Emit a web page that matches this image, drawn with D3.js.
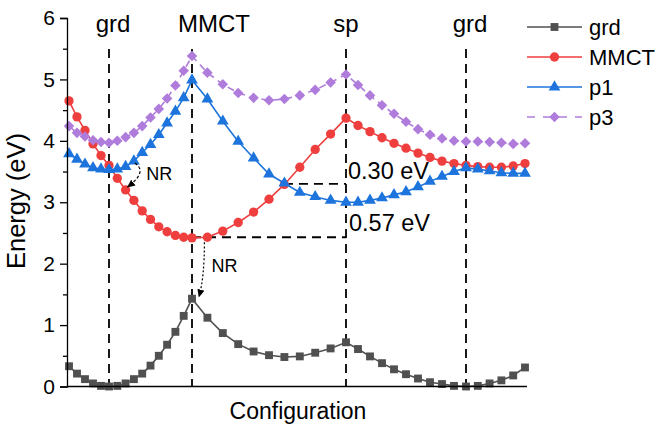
<!DOCTYPE html>
<meta charset="utf-8">
<style>
    body {
        margin: 0;
        background: #fff;
    }
    text {
        font-family: Arial, "Liberation Sans", sans-serif;
        fill: #000;
    }
</style>

<body>
    <script src="https://cdn.jsdelivr.net/npm/d3@7"></script>
    <script>
        // configuration steps along the path grd -> MMCT -> sp -> grd
        var steps = d3.range(41);

        var grd = [0.33, 0.21, 0.12, 0.05, 0.01, 0.00, 0.01, 0.05, 0.12, 0.21,
            0.34, 0.50, 0.68, 0.89, 1.15, 1.43, 1.12, 0.87, 0.69, 0.57,
            0.51, 0.48, 0.49, 0.55, 0.62, 0.72, 0.61, 0.49, 0.38, 0.28,
            0.20, 0.13, 0.07, 0.04, 0.01, 0.00, 0.01, 0.05, 0.10, 0.18, 0.31];

        var mmct = [4.65, 4.39, 4.17, 3.95, 3.76, 3.60, 3.39, 3.20, 3.03, 2.86,
            2.72, 2.60, 2.52, 2.46, 2.43, 2.42, 2.43, 2.53, 2.67, 2.84,
            3.05, 3.29, 3.57, 3.86, 4.11, 4.37, 4.25, 4.15, 4.05, 3.96,
            3.88, 3.80, 3.73, 3.67, 3.63, 3.60, 3.58, 3.57, 3.57, 3.59, 3.63];

        var p1 = [3.79, 3.70, 3.62, 3.56, 3.54, 3.53, 3.54, 3.58, 3.67, 3.81,
            3.94, 4.10, 4.29, 4.48, 4.70, 4.99, 4.68, 4.32, 3.99, 3.72,
            3.46, 3.31, 3.16, 3.09, 3.03, 3.00, 3.00, 3.03, 3.07, 3.12,
            3.17, 3.25, 3.34, 3.42, 3.50, 3.56, 3.54, 3.51, 3.48, 3.47, 3.47];

        var p3 = [4.24, 4.13, 4.07, 4.01, 3.98, 3.97, 4.00, 4.06, 4.13, 4.24,
            4.38, 4.52, 4.69, 4.90, 5.14, 5.38, 5.11, 4.92, 4.78, 4.70,
            4.66, 4.68, 4.74, 4.83, 4.95, 5.08, 4.91, 4.74, 4.58, 4.44,
            4.31, 4.19, 4.10, 4.04, 4.00, 3.99, 3.99, 3.98, 3.97, 3.95, 3.96];

        var yTicks = [0, 1, 2, 3, 4, 5, 6];
        var yMinor = [0.5, 1.5, 2.5, 3.5, 4.5, 5.5];

        // labelled geometries (step index)
        var refNames = ["grd", "MMCT", "sp", "grd"];
        var refSteps = [5, 15, 25, 35];
        var refLabelDx = [4, 22, 0, 4];

        // barriers: 0.30 eV (MMCT/p1 crossing -> p1 at sp), 0.57 eV (MMCT min -> p1 at sp)
        var crossEnergy = 3.30;
        var mmctMin = 2.43;
        var gaps = ["0.30 eV", "0.57 eV"];

        var series = [
            { name: "grd", values: grd, color: "#505050", symbol: d3.symbolSquare, size: 62, rot: 0, dash: null },
            { name: "MMCT", values: mmct, color: "#ef3e3e", symbol: d3.symbolCircle, size: 68, rot: 0, dash: null },
            { name: "p1", values: p1, color: "#1c74dc", symbol: d3.symbolTriangle, size: 60, rot: 0, dash: null },
            { name: "p3", values: p3, color: "#b07cdc", symbol: d3.symbolSquare, size: 56, rot: 45, dash: "7,5" }
        ];

        var width = 661,
            height = 426,
            plotLeft = 67,
            plotRight = 527,
            plotTop = 18,
            plotBottom = 386.5;

        var svg = d3.select("body").append("svg")
            .attr("width", width)
            .attr("height", height);

        var x = d3.scaleLinear()
            .domain([0, 5, 15, 25, 35, 40])
            .range([69, 109, 192, 346, 466, 525]);

        var y = d3.scaleLinear()
            .domain([0, 6])
            .range([plotBottom, plotTop]);

        // arrow head for the NR transitions
        svg.append("defs").append("marker")
            .attr("id", "head")
            .attr("viewBox", "0 -5 10 10")
            .attr("refX", 9)
            .attr("refY", 0)
            .attr("markerWidth", 8)
            .attr("markerHeight", 8)
            .attr("markerUnits", "userSpaceOnUse")
            .attr("orient", "auto")
            .append("path")
            .attr("d", "M0,-4.5L10,0L0,4.5Z")
            .attr("fill", "#000");

        // vertical reference lines
        svg.selectAll(".ref")
            .data(refSteps)
            .enter().append("line")
            .attr("class", "ref")
            .attr("x1", function (d) { return x(d); })
            .attr("x2", function (d) { return x(d); })
            .attr("y1", 49)
            .attr("y2", plotBottom)
            .attr("stroke", "#000")
            .attr("stroke-width", 1.8)
            .attr("stroke-dasharray", "9,6");

        svg.selectAll(".refLabel")
            .data(refSteps)
            .enter().append("text")
            .attr("x", function (d, i) { return x(d) + refLabelDx[i]; })
            .attr("y", 32)
            .attr("text-anchor", "middle")
            .style("font-size", "24px")
            .text(function (d, i) { return refNames[i]; });

        // barrier guides
        var spX = x(refSteps[2]);
        var crossX = x(20) + (x(21) - x(20)) * 0.97;
        var guide = d3.path();
        guide.moveTo(crossX, y(crossEnergy));
        guide.lineTo(spX, y(crossEnergy));
        guide.moveTo(x(15), y(mmctMin));
        guide.lineTo(spX, y(mmctMin));
        svg.append("path")
            .attr("d", guide.toString())
            .attr("fill", "none")
            .attr("stroke", "#000")
            .attr("stroke-width", 1.8)
            .attr("stroke-dasharray", "9,6");

        svg.append("text")
            .attr("x", spX + 2)
            .attr("y", y(crossEnergy) - 5)
            .style("font-size", "23.5px")
            .text(gaps[0]);

        svg.append("text")
            .attr("x", spX + 3)
            .attr("y", y(mmctMin) - 6)
            .style("font-size", "23.5px")
            .text(gaps[1]);

        // curves
        var line = d3.line()
            .x(function (d, i) { return x(steps[i]); })
            .y(function (d) { return y(d); });

        var g = svg.selectAll(".series")
            .data(series)
            .enter().append("g")
            .attr("class", "series");

        g.append("path")
            .attr("d", function (s) { return line(s.values); })
            .attr("fill", "none")
            .attr("stroke", function (s) { return s.color; })
            .attr("stroke-width", 1.6)
            .attr("stroke-dasharray", function (s) { return s.dash; });

        g.each(function (s) {
            d3.select(this).selectAll(".pt")
                .data(s.values)
                .enter().append("path")
                .attr("class", "pt")
                .attr("d", d3.symbol().type(s.symbol).size(s.size))
                .attr("transform", function (d, i) {
                    return "translate(" + x(steps[i]) + "," + y(d) + ") rotate(" + s.rot + ")";
                })
                .attr("fill", s.color);
        });

        // NR arrows
        var a1 = d3.path();
        var sx = x(8) + 1, sy = y(p1[8]) + 2;
        var ex = x(7) + 2, ey = y(mmct[7]) - 3;
        a1.moveTo(sx, sy);
        a1.bezierCurveTo(sx + 9, sy + 6, sx + 6, ey - 10, ex, ey);
        svg.append("path")
            .attr("d", a1.toString())
            .attr("fill", "none")
            .attr("stroke", "#000")
            .attr("stroke-width", 1.2)
            .attr("stroke-dasharray", "3,2")
            .attr("marker-end", "url(#head)");

        svg.append("text")
            .attr("x", x(9) + 4)
            .attr("y", y(p1[8]) + 19)
            .style("font-size", "18px")
            .text("NR");

        var a2 = d3.path();
        var s2x = x(16) - 3, s2y = y(mmct[16]) + 5;
        var e2x = x(15) + 7, e2y = y(grd[15]) - 2;
        a2.moveTo(s2x, s2y);
        a2.quadraticCurveTo(s2x, (s2y + e2y) / 2 + 8, e2x, e2y);
        svg.append("path")
            .attr("d", a2.toString())
            .attr("fill", "none")
            .attr("stroke", "#000")
            .attr("stroke-width", 1.2)
            .attr("stroke-dasharray", "2,2")
            .attr("marker-end", "url(#head)");

        svg.append("text")
            .attr("x", x(16) + 4)
            .attr("y", y(mmct[16]) + 35)
            .style("font-size", "18px")
            .text("NR");

        // axes
        svg.append("line")
            .attr("x1", plotLeft).attr("x2", plotRight)
            .attr("y1", plotBottom).attr("y2", plotBottom)
            .attr("stroke", "#000").attr("stroke-width", 1.3);

        var yAxis = svg.append("g")
            .attr("transform", "translate(" + plotLeft + ",0)")
            .call(d3.axisLeft(y).tickValues(yTicks).tickSize(7).tickPadding(5).tickFormat(d3.format("d")));
        yAxis.select(".domain").attr("stroke-width", 1.3);
        yAxis.selectAll(".tick line").attr("stroke-width", 1.3);
        yAxis.selectAll("text")
            .style("font-size", "21px")
            .style("font-family", "Arial, 'Liberation Sans', sans-serif");

        svg.append("g")
            .attr("transform", "translate(" + plotLeft + ",0)")
            .call(d3.axisLeft(y).tickValues(yMinor).tickSize(4).tickFormat(""))
            .call(function (a) { a.select(".domain").remove(); })
            .selectAll(".tick line").attr("stroke-width", 1.3);

        svg.append("text")
            .attr("x", 298)
            .attr("y", 419)
            .attr("text-anchor", "middle")
            .style("font-size", "23px")
            .text("Configuration");

        svg.append("text")
            .attr("transform", "translate(25,201) rotate(-90)")
            .attr("text-anchor", "middle")
            .style("font-size", "25.5px")
            .text("Energy (eV)");

        // legend
        var legend = svg.selectAll(".legend")
            .data(series)
            .enter().append("g")
            .attr("class", "legend")
            .attr("transform", function (d, i) { return "translate(527," + (27 + i * 30) + ")"; });

        legend.append("line")
            .attr("x1", 0).attr("x2", 55)
            .attr("stroke", function (s) { return s.color; })
            .attr("stroke-width", 1.6)
            .attr("stroke-dasharray", function (s) { return s.dash ? "8,8" : null; });

        legend.append("path")
            .attr("d", function (s) { return d3.symbol().type(s.symbol).size(s.size)(); })
            .attr("transform", function (s) { return "translate(27.5,0) rotate(" + s.rot + ")"; })
            .attr("fill", function (s) { return s.color; });

        legend.append("text")
            .attr("x", 62)
            .attr("y", 8)
            .style("font-size", "22px")
            .text(function (s) { return s.name; });
    </script>
